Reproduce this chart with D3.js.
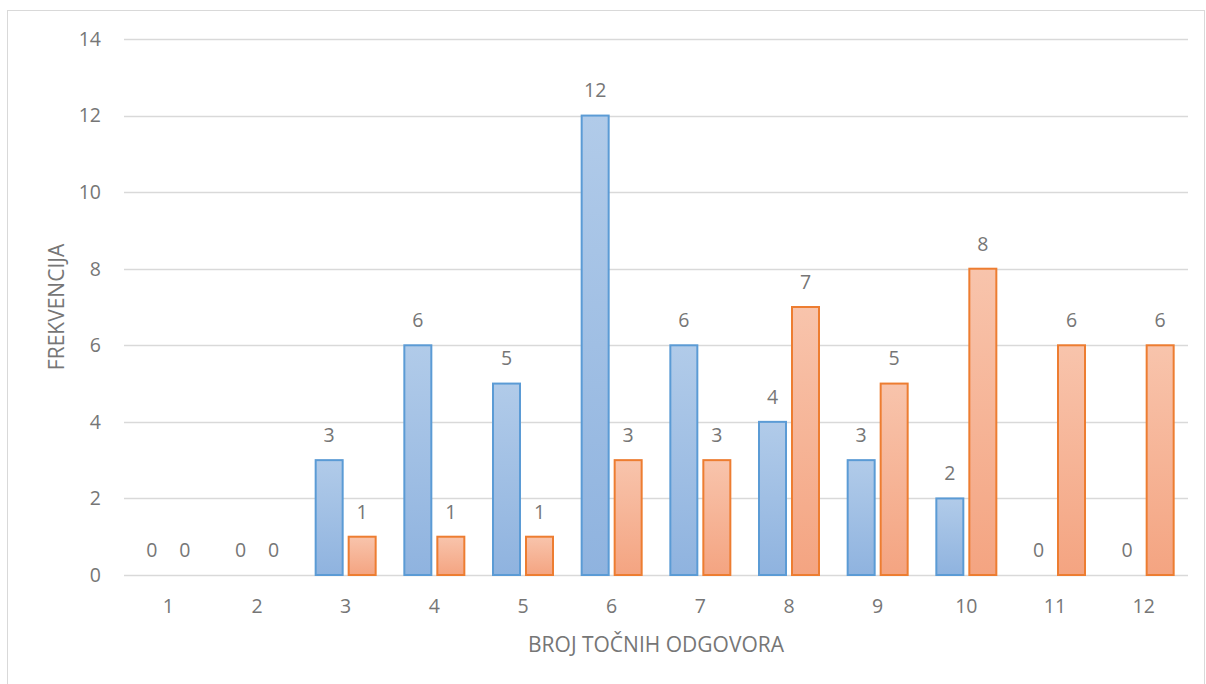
<!DOCTYPE html>
<html><head><meta charset="utf-8">
<script src="https://cdn.jsdelivr.net/npm/d3@7"></script>
<style>body{margin:0;background:#fff;} svg{display:block;}</style>
</head><body>
<svg id="c" width="1206" height="684"></svg>
<script>
const categories = ["1","2","3","4","5","6","7","8","9","10","11","12"];
const seriesA = [0,0,3,6,5,12,6,4,3,2,0,0];
const seriesB = [0,0,1,1,1,3,3,7,5,8,6,6];
const yTicks = [0,2,4,6,8,10,12,14];

const svg = d3.select("#c");
const font = "'Open Sans', 'Noto Sans', sans-serif";
const textColor = "#767676";
const fs = 19.5;
const fsT = 21;

svg.append("rect").attr("x",7.5).attr("y",10.5).attr("width",1197).attr("height",690)
  .attr("fill","#fff").attr("stroke","#d9d9d9");

const defs = svg.append("defs");
function grad(id, c1, c2){
  const g = defs.append("linearGradient").attr("id",id).attr("x1",0).attr("y1",0).attr("x2",0).attr("y2",1);
  g.append("stop").attr("offset","0%").attr("stop-color",c1);
  g.append("stop").attr("offset","100%").attr("stop-color",c2);
}
grad("gA","#b1cbe9","#8fb3df");
grad("gB","#f8c4ac","#f4a481");

const x = d3.scaleBand().domain(categories).range([124,1188]).paddingInner(0).paddingOuter(0);
const y = d3.scaleLinear().domain([0,14]).range([575,39]);

svg.append("g").selectAll("line").data(yTicks).join("line")
  .attr("x1",124).attr("x2",1188).attr("y1",d=>Math.round(y(d))+0.5).attr("y2",d=>Math.round(y(d))+0.5)
  .attr("stroke","#d9d9d9").attr("stroke-width",1.3);

svg.append("g").selectAll("text").data(yTicks).join("text")
  .attr("x",101).attr("y",d=>y(d)).attr("dy","0.35em").attr("text-anchor","end")
  .attr("font-family",font).attr("font-size",fs).attr("fill",textColor).text(d=>d);

svg.append("g").selectAll("text").data(categories).join("text")
  .attr("x",d=>x(d)+x.bandwidth()/2).attr("y",606).attr("dy","0.35em").attr("text-anchor","middle")
  .attr("font-family",font).attr("font-size",fs).attr("fill",textColor).text(d=>d);

const bw = 27, gap = 6;
const series = [
  {vals:seriesA, fill:"url(#gA)", stroke:"#5b9bd5", off:-(gap/2+bw)},
  {vals:seriesB, fill:"url(#gB)", stroke:"#ed7d31", off:gap/2}
];
series.forEach(s=>{
  const g = svg.append("g");
  const d0 = categories.map((c,i)=>({c,v:s.vals[i]}));
  g.selectAll("rect").data(d0.filter(d=>d.v>0)).join("rect")
    .attr("x",d=>x(d.c)+x.bandwidth()/2+s.off)
    .attr("y",d=>y(d.v)).attr("width",bw).attr("height",d=>y(0)-y(d.v))
    .attr("fill",s.fill).attr("stroke",s.stroke).attr("stroke-width",2);
  g.selectAll("text").data(d0).join("text")
    .attr("x",d=>x(d.c)+x.bandwidth()/2+s.off+bw/2)
    .attr("y",d=>y(d.v)-25).attr("dy","0.35em").attr("text-anchor","middle")
    .attr("font-family",font).attr("font-size",fs).attr("fill",textColor).text(d=>d.v);
});

svg.append("text").attr("x",656).attr("y",645).attr("dy","0.35em").attr("text-anchor","middle")
  .attr("font-family",font).attr("font-size",fsT).attr("fill",textColor).text("BROJ TOČNIH ODGOVORA");
svg.append("text").attr("transform","translate(57,307) rotate(-90)").attr("dy","0.35em").attr("text-anchor","middle")
  .attr("font-family",font).attr("font-size",fsT).attr("fill",textColor).text("FREKVENCIJA");
</script>
</body></html>
